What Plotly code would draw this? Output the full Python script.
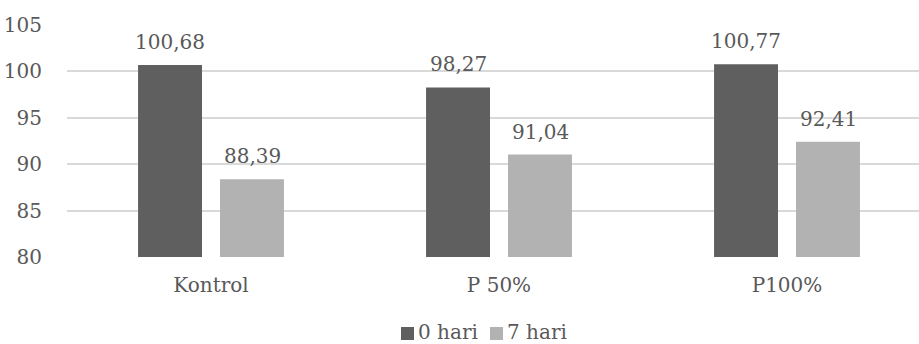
import plotly.graph_objects as go

# Chart data
categories = ["Kontrol", "P 50%", "P100%"]
series_names = ["0 hari", "7 hari"]
values_0_hari = [100.68, 98.27, 100.77]
values_7_hari = [88.39, 91.04, 92.41]
y_ticks = [80, 85, 90, 95, 100, 105]

colors = ["#5f5f5f", "#b2b2b2"]
text_color = "#595959"
grid_color = "#d9d9d9"
font_family = "DejaVu Serif"
font_size = 20

W, H = 919, 344
L, R, T, B = 67, 0, 25, 87
plot_w = W - L - R
plot_h = H - T - B
cat_px = 288  # pixels per category slot


def fmt(v):
    return f"{v:.2f}".replace(".", ",")


fig = go.Figure()
series = [values_0_hari, values_7_hari]
for name, vals, col in zip(series_names, series, colors):
    fig.add_trace(go.Bar(
        x=categories, y=vals, name=name,
        marker=dict(color=col, line=dict(width=0)),
        showlegend=False,
    ))

# value labels above each bar
offsets = [-41, 41]
for vals, dx in zip(series, offsets):
    for c, v in zip(categories, vals):
        fig.add_annotation(
            x=c, y=v, xref="x", yref="y", text=fmt(v),
            showarrow=False, xshift=dx, yshift=23,
            yanchor="middle", xanchor="center",
            font=dict(family=font_family, size=font_size, color=text_color),
        )

# legend drawn below the plot
def px_to_paper_x(px):
    return (px - L) / plot_w


def px_to_paper_y(py):
    return (H - B - py) / plot_h


legend_items = [(401, 416), (490, 505)]
for (sq_x, tx), name, col in zip(legend_items, series_names, colors):
    fig.add_shape(
        type="rect", xref="paper", yref="paper",
        x0=px_to_paper_x(sq_x), x1=px_to_paper_x(sq_x + 13),
        y0=px_to_paper_y(340), y1=px_to_paper_y(327),
        fillcolor=col, line=dict(width=0),
    )
    fig.add_annotation(
        x=px_to_paper_x(tx), y=px_to_paper_y(332), xref="paper", yref="paper",
        text=name, showarrow=False, xanchor="left", yanchor="middle",
        font=dict(family=font_family, size=font_size, color=text_color),
    )

fig.update_layout(
    width=W, height=H,
    margin=dict(l=L, r=R, t=T, b=B, pad=0),
    paper_bgcolor="white", plot_bgcolor="white",
    barmode="group", bargap=0.431, bargroupgap=0.2195,
    font=dict(family=font_family, size=font_size, color=text_color),
    showlegend=False,
)
fig.update_xaxes(
    type="category",
    range=[-0.5, -0.5 + plot_w / cat_px],
    showgrid=False, zeroline=False, showline=False,
    ticks="outside", ticklen=10, tickcolor="rgba(0,0,0,0)",
    tickfont=dict(family=font_family, size=font_size, color=text_color),
)
fig.update_yaxes(
    range=[80, 105], tickvals=y_ticks,
    showgrid=True, gridcolor=grid_color, gridwidth=1.5,
    zeroline=False, showline=False,
    ticks="outside", ticklen=20, tickcolor="rgba(0,0,0,0)",
    tickfont=dict(family=font_family, size=font_size, color=text_color),
)

fig.write_html("out.html")
